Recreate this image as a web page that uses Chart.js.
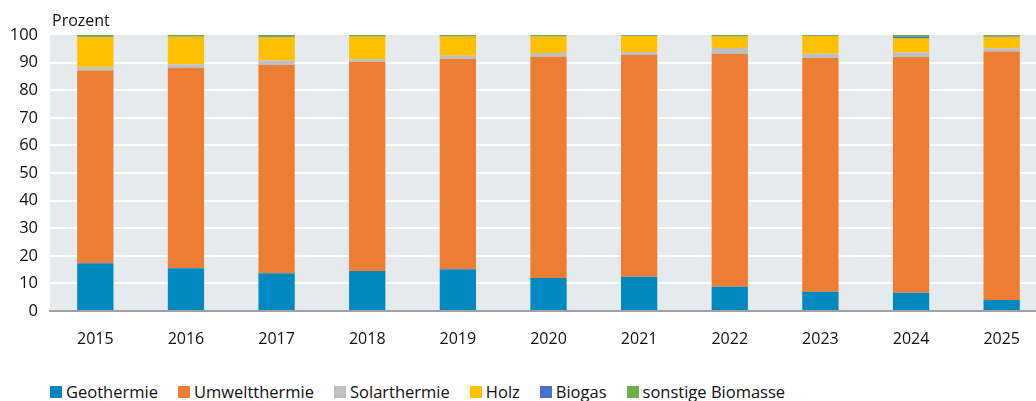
<!DOCTYPE html>
<html lang="de">
<head>
<meta charset="utf-8">
<title>Anteile erneuerbarer Wärme</title>
<script src="https://cdn.jsdelivr.net/npm/chart.js@4/dist/chart.umd.min.js"></script>
<style>
  html, body { margin: 0; padding: 0; background: #fff; }
  body { width: 1036px; height: 401px; overflow: hidden; position: relative; font-family: 'Open Sans', sans-serif; color: #111; }
  #wrap { position: absolute; left: 0; top: 0; width: 1036px; height: 360px; overflow: hidden; }
  #unit { position: absolute; left: 52px; top: 9px; font-size: 16px; }
  #legend { position: absolute; left: 50px; top: 381px; display: flex; gap: 20px; font-size: 16.5px; line-height: 22px; }
  #legend span.item { display: flex; align-items: center; }
  #legend span.box { width: 12px; height: 12px; margin-right: 4px; display: inline-block; }
</style>
</head>
<body>
<div id="wrap"><canvas id="chart" width="1047" height="360"></canvas></div>
<div id="unit">Prozent</div>
<div id="legend"></div>
<script>
// Jahre
const years = ['2015', '2016', '2017', '2018', '2019', '2020', '2021', '2022', '2023', '2024', '2025'];

// Anteile in Prozent
const geothermie      = [17.3, 15.5, 13.7, 14.5, 15.1, 12.0, 12.4, 8.8, 7.0, 6.6, 4.0];
const umweltthermie   = [69.8, 72.5, 75.4, 75.8, 76.2, 80.1, 80.4, 84.3, 84.7, 85.4, 90.0];
const solarthermie    = [1.2, 1.4, 1.7, 0.9, 1.2, 1.4, 1.0, 2.2, 1.5, 1.7, 1.2];
const holz            = [11.0, 10.0, 8.3, 8.3, 7.0, 6.0, 5.8, 4.2, 6.4, 5.0, 4.2];
const biogas          = [0.1, 0.1, 0.1, 0.1, 0.1, 0.1, 0.1, 0.1, 0.1, 0.6, 0.3];
const sonstigeBiomasse = [0.6, 0.5, 0.8, 0.4, 0.4, 0.4, 0.3, 0.4, 0.3, 0.7, 0.3];

const yTicks = [0, 10, 20, 30, 40, 50, 60, 70, 80, 90, 100];

const series = [
  { label: 'Geothermie', data: geothermie, color: '#0088c1' },
  { label: 'Umweltthermie', data: umweltthermie, color: '#ed7d32' },
  { label: 'Solarthermie', data: solarthermie, color: '#bfbfbf' },
  { label: 'Holz', data: holz, color: '#ffc000' },
  { label: 'Biogas', data: biogas, color: '#4472c4' },
  { label: 'sonstige Biomasse', data: sonstigeBiomasse, color: '#70ad47' }
];

// grey plot background
const plotBg = {
  id: 'plotBg',
  beforeDraw(chart) {
    const { ctx, chartArea } = chart;
    ctx.save();
    ctx.fillStyle = '#e5eaee';
    ctx.fillRect(chartArea.left, chartArea.top, chartArea.right - chartArea.left, chartArea.bottom - chartArea.top);
    ctx.restore();
  }
};

new Chart(document.getElementById('chart'), {
  type: 'bar',
  data: {
    labels: years,
    datasets: series.map(s => ({
      label: s.label,
      data: s.data,
      backgroundColor: s.color,
      borderWidth: 0,
      barPercentage: 0.4,
      categoryPercentage: 1.0
    }))
  },
  options: {
    responsive: false,
    animation: false,
    layout: { padding: { top: 35, bottom: 0, left: 0, right: 0 } },
    plugins: {
      legend: { display: false },
      tooltip: { enabled: false }
    },
    scales: {
      x: {
        stacked: true,
        grid: { display: false },
        border: { display: true, color: '#a0a0a0', width: 2 },
        ticks: { color: '#111', font: { family: "'Open Sans', sans-serif", size: 16 }, padding: 11 },
        afterFit(axis) { axis.height = 49; }
      },
      y: {
        stacked: true,
        min: 0,
        max: 100,
        afterBuildTicks(axis) { axis.ticks = yTicks.map(v => ({ value: v })); },
        grid: {
          color: ctx => (ctx.tick && (ctx.tick.value === 0 || ctx.tick.value === 100)) ? 'rgba(0,0,0,0)' : '#ffffff',
          lineWidth: 2,
          drawTicks: false
        },
        border: { display: false },
        ticks: { color: '#111', font: { family: "'Open Sans', sans-serif", size: 16.5 }, padding: 12 },
        afterFit(axis) { axis.width = 50; }
      }
    }
  },
  plugins: [plotBg]
});

// legend below the chart
const legend = document.getElementById('legend');
series.forEach(s => {
  const item = document.createElement('span');
  item.className = 'item';
  const box = document.createElement('span');
  box.className = 'box';
  box.style.background = s.color;
  item.appendChild(box);
  item.appendChild(document.createTextNode(s.label));
  legend.appendChild(item);
});
</script>
</body>
</html>
